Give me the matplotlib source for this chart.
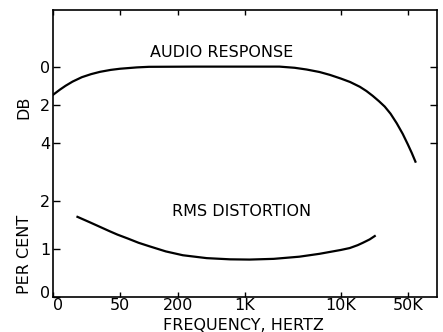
import matplotlib
matplotlib.use("Agg")
import matplotlib.pyplot as plt
from matplotlib.transforms import ScaledTranslation

# audio response, frequency in Hz and level in dB below reference
resp_freq = [10, 11.8, 13.5, 16, 20, 25, 31, 40, 50, 75, 100, 300, 1000, 2300,
             3300, 4400, 6000, 7700, 10000, 12500, 15800, 18500, 21500, 25000,
             28700, 33000, 38300, 44200, 50000, 55000, 60000]
resp_db = [1.47, 1.2, 1.0, 0.78, 0.55, 0.39, 0.27, 0.17, 0.11, 0.04, 0.01, 0.0, 0.0, 0.0,
           0.06, 0.15, 0.28, 0.43, 0.62, 0.8, 1.05, 1.27, 1.52, 1.8,
           2.08, 2.45, 2.95, 3.5, 4.05, 4.5, 4.95]

# rms distortion, per cent
dist_freq = [18, 24, 31, 39, 47, 60, 78, 100, 150, 226, 400, 700, 1120, 2000,
             3700, 6000, 10000, 12400, 15000, 17000, 20000, 22600]
dist_pct = [1.67, 1.56, 1.46, 1.37, 1.30, 1.22, 1.13, 1.06, 0.95, 0.87, 0.81, 0.785, 0.78, 0.795,
            0.84, 0.9, 0.98, 1.02, 1.08, 1.13, 1.2, 1.27]

freq_ticks = [10, 50, 200, 1000, 10000, 50000]
freq_labels = ["0", "50", "200", "1K", "10K", "50K"]
db_ticks = [0, 2, 4]
pct_ticks = [0, 1, 2]

plt.rcParams["font.family"] = "DejaVu Sans"
fs = 11.5

fig = plt.figure(figsize=(4.43, 3.32), dpi=100)
rect = [0.1196, 0.1054, 0.8662, 0.8645]

# upper curve: decibels (inverted scale)
ax = fig.add_axes(rect)
ax.set_xscale("log")
ax.set_xlim(10, 100000)
ax.set_ylim(12.0, -2.95)
ax.plot(resp_freq, resp_db, color="black", lw=1.6)
ax.set_xticks(freq_ticks)
ax.set_xticklabels(freq_labels, fontsize=fs)
ax.xaxis.set_minor_locator(matplotlib.ticker.NullLocator())
ax.tick_params(axis="x", direction="in", length=3.5, width=1, top=True, pad=0.5)
ax.set_yticks(db_ticks)
ax.set_yticklabels([str(t) for t in db_ticks], fontsize=fs)
ax.tick_params(axis="y", direction="in", length=5, width=1, right=True, pad=2)
for s in ax.spines.values():
    s.set_linewidth(1.2)
# nudge the corner "0" a little right so it clears the per-cent zero
lab0 = ax.get_xticklabels()[0]
lab0.set_transform(lab0.get_transform() + ScaledTranslation(0.05, 0, fig.dpi_scale_trans))
ax.text(243, 7, "FREQUENCY, HERTZ", transform=None, fontsize=fs,
        ha="center", va="center")
ax.text(-0.075, 0.66, "DB", transform=ax.transAxes, rotation=90,
        fontsize=fs, ha="center", va="center")
ax.text(222, 332 - 52.5, "AUDIO RESPONSE", transform=None, fontsize=fs,
        ha="center", va="center")

# lower curve: per cent distortion
ax2 = fig.add_axes(rect)
ax2.patch.set_visible(False)
ax2.set_xscale("log")
ax2.set_xlim(10, 100000)
ax2.set_ylim(0, 5.98)
ax2.plot(dist_freq, dist_pct, color="black", lw=1.6)
ax2.set_xticks([])
ax2.xaxis.set_minor_locator(matplotlib.ticker.NullLocator())
ax2.set_yticks(pct_ticks)
ax2.set_yticklabels([str(t) for t in pct_ticks], fontsize=fs)
ax2.tick_params(axis="y", direction="in", length=5, width=1, pad=2)
for s in ax2.spines.values():
    s.set_visible(False)
pz = ax2.get_yticklabels()[0]
pz.set_transform(pz.get_transform() + ScaledTranslation(0, 0.05, fig.dpi_scale_trans))
ax2.text(-0.075, 0.15, "PER CENT", transform=ax2.transAxes, rotation=90,
         fontsize=fs, ha="center", va="center")
ax2.text(242, 332 - 211, "RMS DISTORTION", transform=None, fontsize=fs,
         ha="center", va="center")

fig.savefig("out.png", dpi=100)
